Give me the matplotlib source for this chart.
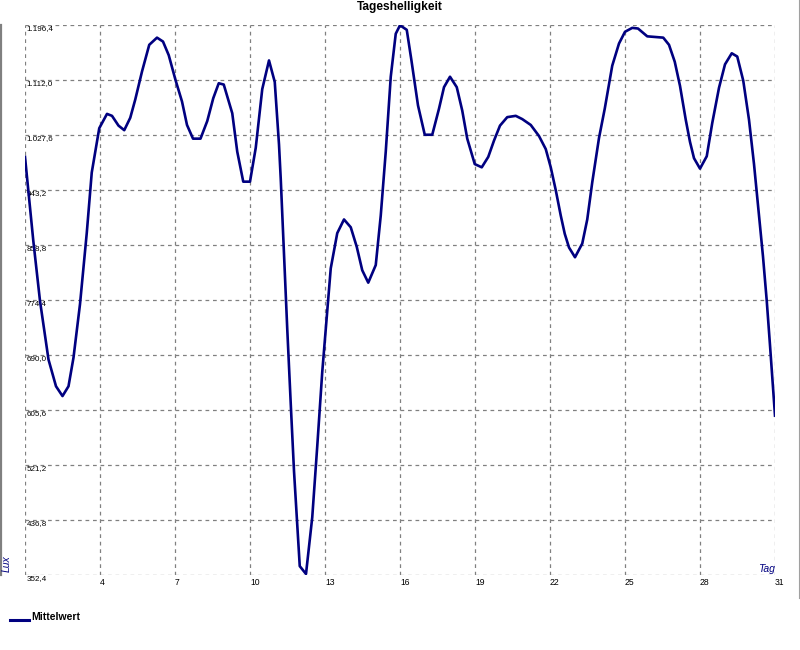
import matplotlib
matplotlib.use("Agg")
import matplotlib.pyplot as plt
from matplotlib.lines import Line2D
import numpy as np

plt.rcParams['font.family'] = ['Liberation Sans', 'DejaVu Sans']

title = "Tageshelligkeit"
series_name = "Mittelwert"
x_label = "Tag"
y_label = "Lux"

days = [1.0, 1.33, 1.6, 1.94, 2.24, 2.5, 2.74, 2.94, 3.2, 3.47, 3.67, 3.97,
        4.28, 4.48, 4.74, 4.97, 5.21, 5.41, 5.68, 5.97, 6.28, 6.52, 6.75,
        7.02, 7.28, 7.48, 7.72, 8.02, 8.29, 8.53, 8.75, 8.95, 9.15, 9.29,
        9.49, 9.73, 10.0, 10.23, 10.49, 10.76, 10.99, 11.16, 11.23, 11.36,
        11.49, 11.63, 11.76, 11.87, 11.99, 12.24, 12.49, 12.69, 12.89, 13.03,
        13.23, 13.49, 13.76, 14.03, 14.27, 14.49, 14.73, 15.03, 15.23, 15.43,
        15.63, 15.83, 16.0, 16.27, 16.45, 16.72, 16.99, 17.29, 17.56, 17.76,
        18.0, 18.27, 18.49, 18.69, 18.99, 19.27, 19.53, 19.76, 20.0, 20.29,
        20.63, 20.89, 21.23, 21.56, 21.83, 22.03, 22.23, 22.43, 22.59, 22.76,
        23.0, 23.29, 23.49, 23.69, 23.96, 24.19, 24.49, 24.76, 25.0, 25.29,
        25.52, 25.89, 26.23, 26.53, 26.76, 26.99, 27.2, 27.43, 27.6, 27.76,
        28.0, 28.27, 28.49, 28.76, 29.0, 29.27, 29.49, 29.73, 29.96, 30.16,
        30.36, 30.52, 30.67, 30.8, 31.0]
lux = [994, 866, 773, 683, 642, 627, 642, 686, 768, 877, 970, 1038,
       1060, 1057, 1042, 1035, 1054, 1082, 1125, 1166, 1177, 1171, 1150,
       1112, 1079, 1043, 1022, 1022, 1049, 1084, 1107, 1105, 1079, 1061,
       1002, 956, 956, 1008, 1098, 1142, 1109, 1013, 960, 844,
       730, 615, 512, 441, 366, 354, 441, 550, 664, 730,
       823, 877, 898, 886, 856, 820, 801, 828, 904, 1002,
       1117, 1183, 1196, 1189, 1144, 1073, 1028, 1028, 1068, 1101,
       1117, 1101, 1065, 1022, 983, 978, 994, 1019, 1042, 1055,
       1057, 1052, 1043, 1026, 1006, 978, 943, 904, 876, 855,
       840, 861, 898, 955, 1023, 1068, 1134, 1168, 1186, 1192,
       1191, 1179, 1178, 1177, 1166, 1140, 1103, 1051, 1017, 992,
       976, 995, 1046, 1100, 1136, 1153, 1148, 1111, 1051, 983,
       904, 841, 773, 705, 597]

x_ticks = [1, 4, 7, 10, 13, 16, 19, 22, 25, 28, 31]
x_tick_labels = ["", "4", "7", "10", "13", "16", "19", "22", "25", "28", "31"]
y_ticks = [352.4, 436.8, 521.2, 605.6, 690.0, 774.4, 858.8, 943.2,
           1027.6, 1112.0, 1196.4]
y_tick_labels = ["352,4", "436,8", "521,2", "605,6", "690,0", "774,4",
                 "858,8", "943,2", "1.027,6", "1.112,0", "1.196,4"]

W, H = 800, 650
fig = plt.figure(figsize=(W / 100, H / 100), dpi=100)
fig.patch.set_facecolor('white')
ax = fig.add_axes([25 / W, 1 - 575 / H, 750 / W, 550 / H])
ax.set_facecolor('white')

navy = '#000080'
ax.plot(days, lux, color=navy, lw=1.9, solid_joinstyle='round', zorder=3)

ax.set_xlim(1, 31)
ax.set_ylim(352.4, 1196.4)
ax.set_xticks(x_ticks)
ax.set_xticklabels(x_tick_labels)
ax.set_yticks(y_ticks)
ax.set_yticklabels(y_tick_labels)
for s in ax.spines.values():
    s.set_visible(False)
ax.grid(True, color='#808080', linestyle=(0, (3, 3)), linewidth=0.9, zorder=1)
ax.tick_params(axis='y', length=0, pad=-1, labelsize=5.8, labelcolor='black')
ax.tick_params(axis='x', length=0, pad=2, labelsize=6.2, labelcolor='black')
for lab in ax.get_yticklabels():
    lab.set_horizontalalignment('left')
    lab.set_verticalalignment('top')
for lab in ax.get_xticklabels():
    lab.set_horizontalalignment('left')

fig.text(0.5, 1 - 7 / H, title, ha='center', va='center', fontsize=8.6,
         fontweight='bold', color='black')
fig.text(775 / W, 1 - 574 / H, x_label, ha='right', va='bottom', fontsize=7.5,
         style='italic', color=navy)
fig.text(7 / W, 1 - 564 / H, y_label, ha='center', va='center', fontsize=7.5,
         rotation=90, style='italic', color=navy)

# frame decorations
fig.add_artist(Line2D([1 / W, 1 / W], [1 - 25 / H, 1 - 575 / H],
                      color='#808080', lw=1.6))
fig.add_artist(Line2D([799 / W, 799 / W], [1.0, 1 - 598 / H],
                      color='#a0a0a0', lw=0.8))

# legend
fig.add_artist(Line2D([10 / W, 29 / W], [1 - 620 / H, 1 - 620 / H],
                      color=navy, lw=2.2))
fig.text(31 / W, 1 - 617 / H, series_name, ha='left', va='center',
         fontsize=7.5, fontweight='bold', color='black')

fig.savefig('out.png', dpi=100)
